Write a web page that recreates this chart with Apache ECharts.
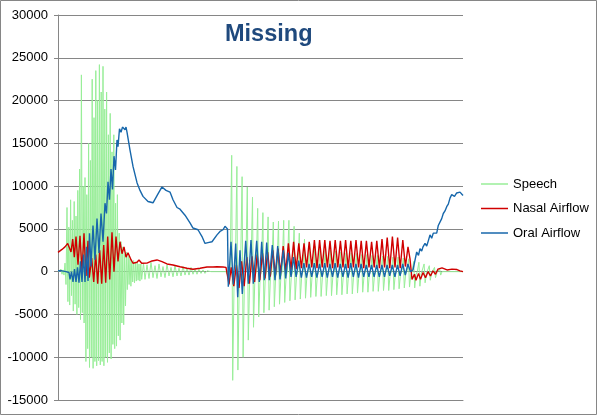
<!DOCTYPE html>
<html>
<head>
<meta charset="utf-8">
<script src="https://cdn.jsdelivr.net/npm/echarts@6/dist/echarts.min.js"></script>
<style>
html,body{margin:0;padding:0;background:#fff;}
#c{width:600px;height:417px;}
</style>
</head>
<body>
<div id="c"></div>
<script>
// time axis: sample index (hidden), values in signal units
var yMin = -15000, yMax = 30000, yStep = 5000;
var tMin = 0, tMax = 405;
var seriesNames = ['Speech', 'Nasal Airflow', 'Oral Airflow'];

var speech = [
[0,0],[1,200],[2,-200],[3,300],[4,-300],[5,200],[6,-400],[7,1000],[8,-1500],
[9.0,7500],[9.9,-3500],[10.8,5200],[11.7,-3900],[12.6,8400],[13.5,-2800],[14.4,6000],[15.3,-4600],
[16.2,8200],[17.1,-3800],[18.0,6500],[18.9,-5000],[19.8,9500],[20.7,-4200],[21.6,12000],[22.5,-5600],
[23.4,23000],[24.3,-4800],[25.2,10000],[26.1,-6000],[27.0,11000],[27.9,-10500],[28.8,9000],[29.7,-9000],
[30.6,15000],[31.5,-11200],[32.4,13000],[33.3,-10000],[34.2,22500],[35.1,-11300],[36.0,18000],[36.9,-10500],
[37.8,23500],[38.7,-11000],[39.6,20000],[40.5,-10400],[41.4,24200],[42.3,-10900],[43.2,21000],[44.1,-10500],
[45.0,24000],[45.9,-11000],[46.8,19000],[47.7,-10000],[48.6,21000],[49.5,-10600],[50.4,16000],[51.3,-9500],
[52.2,18500],[53.1,-10200],[54.0,14000],[54.9,-8500],[55.8,16000],[56.7,-9000],[57.6,8000],[58.5,-8700],
[59.4,9000],[60.3,-7500],[61.2,4500],[62.1,-8000],[63.0,3500],[63.9,-6000],[64.8,2900],[65.7,-6200],
[66.6,2000],[67.5,-4000],[68.4,2300],[69.3,-2100],[70.2,1800],[71.1,-1500],[72.0,1500],[72.9,-1700],
[73.8,1200],[74.7,-1200],[75.6,1300],[76.5,-1300],[77.4,1000],[78.3,-1100],[79.2,1100],[80.1,-1000],
[81.0,900],[81.9,-1100],[82.8,900],[83.7,-900],
[85.5,1000],[87,-900],[89,800],[91,-800],[93,1100],[95,-700],[97,700],[99,-800],[101,900],[103,-600],
[105,600],[107,-700],[109,800],[111,-500],[113,500],[115,-600],[117,700],[119,-500],[121,400],[123,-500],
[125,600],[127,-400],[129,400],[131,-400],[133,500],[135,-300],[137,300],[139,-300],[141,300],[143,-200],
[145,200],[147,-200],[149,100],[151,-100],[153,0],[168,0],[169,-300],[170,200],
[172.1,0],[173.7,13600],[174.7,-12700],[176.1,-900],
[177.3,0],[178.9,12300],[179.9,-11500],[181.3,-900],
[182.5,0],[184.1,11100],[185.1,-10000],[186.5,-800],
[187.7,0],[189.3,9900],[190.3,-8000],[191.7,-800],
[192.9,0],[194.5,8700],[195.5,-6500],[196.9,-700],
[198.1,0],[199.7,7400],[200.7,-5300],[202.1,-700],
[203.3,0],[204.9,6900],[205.9,-4800],[207.3,-700],
[208.5,0],[210.1,6400],[211.1,-4500],[212.5,-600],
[213.7,0],[215.3,5800],[216.3,-4100],[217.7,-600],
[218.9,0],[220.5,5900],[221.5,-3800],[222.9,-600],
[224.1,0],[225.7,6000],[226.7,-3600],[228.1,-600],
[229.3,0],[230.9,6000],[231.9,-3400],[233.3,-600],
[234.5,0],[236.1,5300],[237.1,-3300],[238.5,-500],
[239.7,0],[241.3,4500],[242.3,-3200],[243.7,-500],
[244.9,0],[246.5,3800],[247.5,-3100],[248.9,-500],
[250.1,0],[251.7,3300],[252.7,-3000],[254.1,-500],
[255.3,0],[256.9,3000],[257.9,-2900],[259.3,-500],
[260.5,0],[262.1,2800],[263.1,-2900],[264.5,-500],
[265.7,0],[267.3,2600],[268.3,-2800],[269.7,-500],
[270.9,0],[272.5,2500],[273.5,-2800],[274.9,-500],
[276.1,0],[277.7,2400],[278.7,-2700],[280.1,-500],
[281.3,0],[282.9,2300],[283.9,-2700],[285.3,-500],
[286.5,0],[288.1,2200],[289.1,-2600],[290.5,-400],
[291.7,0],[293.3,2200],[294.3,-2600],[295.7,-400],
[296.9,0],[298.5,2100],[299.5,-2500],[300.9,-400],
[302.1,0],[303.7,2000],[304.7,-2400],[306.1,-400],
[307.3,0],[308.9,2000],[309.9,-2400],[311.3,-400],
[312.5,0],[314.1,1900],[315.1,-2300],[316.5,-400],
[317.7,0],[319.3,1900],[320.3,-2300],[321.7,-400],
[322.9,0],[324.5,1800],[325.5,-2200],[326.9,-400],
[328.1,0],[329.7,1800],[330.7,-2200],[332.1,-400],
[333.3,0],[334.9,1700],[335.9,-2100],[337.3,-300],
[338.5,0],[340.1,1700],[341.1,-2000],[342.5,-300],
[343.7,0],[345.3,1600],[346.3,-1900],[347.7,-300],
[348.9,0],[350.5,1500],[351.5,-1800],[352.9,-300],
[354.1,0],[355.7,1200],[356.7,-1900],[358.1,-300],
[359.3,0],[360.9,1100],[361.9,-1700],[363.3,-200],
[364.5,0],[366.1,900],[367.1,-1300],[368.5,-200],
[369.7,0],[371.3,700],[372.3,-1000],[373.7,-100],
[374.9,0],[376.5,500],[377.5,-700],[378.9,-100],
[380.1,0],[381.7,300],[382.7,-400],[384,0],[405,0]
];

var nasal = [
[0,2250],[2,2400],[4,2600],[5,2450],[7,2900],[8,2750],[9.7,3300],[11.3,3100],[13,2300],[14.7,3800],
[16.3,1700],[18,4100],[20,800],[22,4200],[24,100],[26,4500],[28,-500],[30,3600],[31.3,-700],[33.7,1600],
[35.7,-1200],[37.7,2000],[39.7,-1400],[41.7,2500],[43.7,-1400],[45.7,3100],[47.7,-1300],[49.7,4100],
[51.7,-900],[54,4600],[56,0],[58,4100],[60,1200],[62,3500],[64,2100],[66,2900],[68,1700],[70,2200],
[73,1400],[75,980],[79,1100],[81,1370],[83.7,980],[89,1000],[94,1250],[99,1370],[104,1170],[109,900],
[115,780],[122,580],[129,400],[135,280],[142,400],[149,550],[155,550],[159,580],[165,550],[168,500],
[169.5,-500],[171,-1500],
[173.2,500],[175.8,-1700],[178.4,800],[181,-1900],[183.6,1200],[186.2,-1700],[188.8,1700],[191.4,-1400],
[194,1800],[196.6,-1200],[199.2,2000],[201.8,-1000],[204.4,2200],[207,-800],[209.6,2300],[212.2,-600],
[214.8,2500],[217.4,-400],[220,2700],[222.6,-200],[225.2,3000],[227.8,0],[230.4,3300],[233,200],
[235.6,3500],[238.2,300],[240.8,3300],[243.4,400],[246,3300],[248.6,500],[251.2,3500],[253.8,500],
[256.4,3700],[259,400],[261.6,3700],[264.2,500],[266.8,3700],[269.4,500],[272,3600],[274.6,400],
[277.2,3700],[279.8,500],[282.4,3600],[285,500],[287.6,3700],[290.2,400],[292.8,3600],[295.4,500],
[298,3700],[300.6,500],[303.2,3600],[305.8,400],[308.4,3600],[311,500],[313.6,3500],[316.2,500],
[318.8,3600],[321.4,400],[324,3800],[326.6,500],[329.2,4000],[331.8,400],[334.4,4100],[337,500],
[339.6,4000],[342.2,400],[344.8,3700],[347.4,600],[350,2900],[352,1500],
[354,-900],[356.5,-300],[358,-1000],[360.5,-200],[362.5,-900],[365,-100],[367.5,-700],[370,0],
[372.5,-500],[375,100],[377.5,-300],[380,300],[384,450],[389,200],[394,300],[399,250],[402,100],[405,0]
];

var oral = [
[0,100],[2,0],[4,100],[6,-100],[8,0],[10,-200],[11,-100],[12,-900],[13.5,0],[15,-1200],[16.5,300],
[18,-1200],[19.5,500],[21,-1300],[22.5,1200],[24,-1200],[25.5,2000],[27,-1200],[28.5,2900],[30,-1100],
[31.5,4500],[33,600],[35,5400],[37,1400],[39,6200],[41,2200],[43,6800],[45,3500],[47,8000],[48.5,6800],
[50,10500],[51.5,8400],[53,12000],[54.5,9600],[56,13500],[57.5,11900],[59,15400],[60,14600],[61.5,16700],
[63,16300],[64.5,16900],[66,17000],[67,16600],[68,16900],[69,16300],[72,14200],[75,12300],[79,10400],
[82,9500],[85,8800],[90,8200],[95,8050],[97,8000],[100,9100],[104,9900],[106,10000],[108,9500],[110,9700],
[112,9300],[115,8400],[119,7500],[122,7300],[124,7200],[127,6600],[132,5700],[135,5100],[140,4900],
[144,4100],[147,3300],[150,3400],[154,3500],[156,3700],[159,4300],[162,4700],[165,4900],[167,5300],
[168.5,5500],[169.5,5000],[170.3,-1750],[173,3500],[175.3,-1500],[177.7,3300],[179.7,-3000],[182,2500],
[184.3,-2600],[187.7,3600],[190.3,-1400],[193,3700],[195.3,-1400],[198.7,3600],[201.3,-1200],[203.7,3500],
[206.3,-1000],[208.7,3400],[211.3,-1000],[214.3,3100],[217,-1000],[219.7,3000],[222,-900],[225.3,2500],
[227.7,-800],[230.3,2200],[233,-600],
[235.5,1700],[238.1,-600],[240.7,1300],[243.3,-700],[245.9,1000],[248.5,-700],[251.1,900],[253.7,-600],
[256.3,1000],[258.9,-700],[261.5,900],[264.1,-600],[266.7,1000],[269.3,-700],[271.9,900],[274.5,-600],
[277.1,1000],[279.7,-700],[282.3,900],[284.9,-600],[287.5,900],[290.1,-700],[292.7,1000],[295.3,-600],
[297.9,900],[300.5,-700],[303.1,900],[305.7,-600],[308.3,800],[310.9,-600],[313.5,800],[316.1,-600],
[318.7,800],[321.3,-600],[323.9,800],[326.5,-600],[329.1,800],[331.7,-500],[334.3,800],[336.9,-600],
[339.5,800],[342.1,-500],[344.7,900],[347.3,-400],[349.9,900],[352.5,0],
[355,200],[358.7,2300],[360.5,1900],[362,2700],[363.7,2400],[365,2900],[367,3300],[368.7,3000],
[370.3,3600],[372,4300],[373.7,3900],[375.3,4500],[377,4700],[378.7,4500],[380.3,5400],[382,5600],
[383.7,6200],[385.3,6800],[387,7100],[388.7,7600],[390.3,7900],[392,8600],[393.7,9000],[395,9200],
[396.5,8800],[398.7,9200],[400.5,9100],[402,9300],[404,9100],[405,8900]
];

var chart = echarts.init(document.getElementById('c'), null, {renderer: 'canvas'});
var gridColor = '#868686';
var font = '"Liberation Sans", Arial, sans-serif';
chart.setOption({
  animation: false,
  backgroundColor: '#ffffff',
  title: {
    text: 'Missing',
    left: 225, top: 23, padding: 0,
    textStyle: {fontFamily: font, fontSize: 23.5, fontWeight: 'bold', color: '#1F497D'}
  },
  legend: {
    orient: 'vertical',
    left: 481, top: 177, padding: 0,
    icon: 'rect',
    itemWidth: 27, itemHeight: 1.5, itemGap: 10.5,
    textStyle: {fontFamily: font, fontSize: 13, color: '#000', lineHeight: 14, height: 14},
    data: seriesNames
  },
  grid: {left: 58, right: 137, top: 15, bottom: 17, containLabel: false},
  xAxis: {
    type: 'value', min: tMin, max: tMax,
    axisLine: {show: true, onZero: false, lineStyle: {color: gridColor, width: 1}},
    axisTick: {show: false}, axisLabel: {show: false}, splitLine: {show: false}
  },
  yAxis: {
    type: 'value', min: yMin, max: yMax, interval: yStep,
    axisLine: {show: true, lineStyle: {color: gridColor, width: 1}},
    axisTick: {show: true, length: 4, lineStyle: {color: gridColor}},
    axisLabel: {fontFamily: font, fontSize: 13, color: '#000', margin: 10,
                formatter: function (v) { return String(v); }},
    splitLine: {show: true, lineStyle: {color: gridColor, width: 1}}
  },
  graphic: [{
    type: 'rect', silent: true, z: 100,
    shape: {x: 0.5, y: 0.5, width: 596, height: 414},
    style: {fill: 'none', stroke: gridColor, lineWidth: 1}
  }],
  series: [
    {name: seriesNames[0], type: 'line', data: speech, symbol: 'none', z: 1,
     lineStyle: {color: '#98EE98', width: 1}, itemStyle: {color: '#98EE98'}},
    {name: seriesNames[1], type: 'line', data: nasal, symbol: 'none', z: 2,
     lineStyle: {color: '#D00000', width: 1.4}, itemStyle: {color: '#D00000'}},
    {name: seriesNames[2], type: 'line', data: oral, symbol: 'none', z: 3,
     lineStyle: {color: '#1767AB', width: 1.4}, itemStyle: {color: '#1767AB'}}
  ]
});
</script>
</body>
</html>
